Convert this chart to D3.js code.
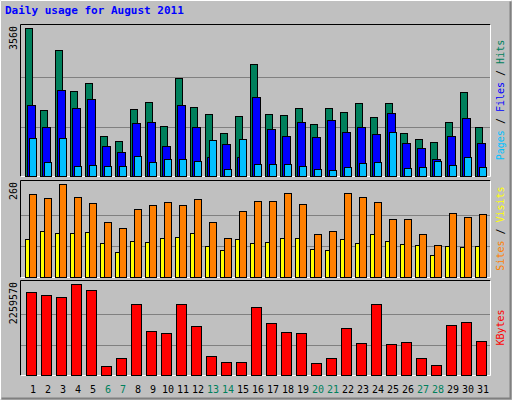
<!DOCTYPE html>
<html><head><meta charset="utf-8">
<script src="https://cdn.jsdelivr.net/npm/d3@7"></script>
<style>body{margin:0;background:#fff}svg{display:block}</style>
</head><body><svg id="c" width="512" height="400"></svg>
<script>
const days = d3.range(1, 32);
const weekends = [6, 7, 13, 14, 20, 21, 27, 28];
const hits = [3560,1598,3027,2034,2228,969,848,1623,1792,1211,2349,1671,1501,1041,1453,2688,1501,1477,1647,1259,1647,1550,1744,1429,1744,1041,896,823,1308,2010,1187];
const files = [1719,1187,2067,1647,1841,727,581,1284,1308,727,1719,1187,460,775,460,1889,1138,969,1308,944,1356,1066,1187,1017,1526,799,678,412,969,1405,799];
const pages = [920,339,920,242,266,242,242,484,339,412,412,363,872,170,896,291,291,291,242,170,145,218,315,339,1066,194,218,363,266,460,218];
const visits = [232,220,260,223,206,155,138,189,201,209,201,218,155,110,184,212,212,235,203,119,130,235,223,209,161,161,119,90,178,167,175];
const sites = [107,130,122,124,127,96,71,102,99,110,113,122,88,76,105,96,99,110,110,79,76,105,96,119,102,93,90,62,88,85,88];
const kbytes = [2060970,1986480,1936818,2259570,2110635,223479,422127,1763001,1092564,1042902,1763001,1216719,471789,322803,322803,1688508,1291212,1067733,1042902,297972,422127,1167057,794592,1763001,769761,819423,422127,248310,1241550,1316043,844254];

const svg = d3.select('#c');
const mono = "'DejaVu Sans Mono', monospace";

// outer frame
svg.append('rect').attr('width', 512).attr('height', 400).attr('fill', '#c0c0c0');
svg.append('path').attr('d', 'M0.5,399.5V0.5H511.5').attr('stroke', '#fff').attr('fill', 'none');
svg.append('path').attr('d', 'M1.5,398.5H510.5V1.5').attr('stroke', '#808080').attr('stroke-width', 2).attr('fill', 'none');

svg.append('text').attr('x', 5).attr('y', 14).attr('fill', '#0000ff')
  .style('font', `bold 11px ${mono}`).text('Daily usage for August 2011');

const x = d3.scaleLinear().domain([1, 31]).range([25, 475]);

function panel(top, bottom, max, label) {
  const y = d3.scaleLinear().domain([0, max]).range([bottom, top + 4]);
  const g = svg.append('g');
  g.append('rect').attr('x', 20.5).attr('y', top + 0.5).attr('width', 470).attr('height', bottom - top)
    .attr('fill', '#c0c0c0');
  g.append('path').attr('d', `M20.5,${bottom + 0.5}V${top + 0.5}H490.5`).attr('stroke', '#000').attr('fill', 'none');
  g.append('path').attr('d', `M20.5,${bottom + 0.5}H490.5V${top + 0.5}`).attr('stroke', '#fff').attr('fill', 'none');
  [1, 2].forEach(k => {
    const yy = Math.round(y(max * k / 3)) + 0.5;
    g.append('line').attr('x1', 21).attr('x2', 490).attr('y1', yy).attr('y2', yy).attr('stroke', '#808080');
  });
  g.append('text').attr('transform', `translate(17,${top + 2}) rotate(-90)`).attr('text-anchor', 'end')
    .style('font', `10px ${mono}`).text(label);
  return { g, y, bottom };
}

function bars(p, data, dx, w, color) {
  p.g.selectAll(null).data(data).enter().append('rect')
    .attr('x', (d, i) => x(days[i]) + dx + 0.5)
    .attr('y', d => Math.round(p.y(d)) + 0.5)
    .attr('width', w)
    .attr('height', d => p.bottom - Math.round(p.y(d)))
    .attr('fill', color).attr('stroke', '#000');
}

function sideLabel(top, bottom, parts) {
  const t = svg.append('text').attr('transform', `translate(504,${(top + bottom) / 2}) rotate(-90)`)
    .attr('text-anchor', 'middle').style('font', `10px ${mono}`);
  parts.forEach(([s, c]) => t.append('tspan').attr('fill', c).text(s));
}

const p1 = panel(24, 176, 3560, '3560');
bars(p1, hits, 0, 7, '#00805c');
bars(p1, files, 2, 8, '#0000ff');
bars(p1, pages, 4, 7, '#00c0ff');
sideLabel(24, 176, [['Pages', '#00c0ff'], [' / ', '#000'], ['Files', '#0000ff'], [' / ', '#000'], ['Hits', '#00805c']]);

const p2 = panel(180, 277, 260, '260');
bars(p2, sites, 0, 4, '#ffff00');
bars(p2, visits, 4, 7, '#ff8000');
sideLabel(180, 277, [['Sites', '#ff8000'], [' / ', '#000'], ['Visits', '#ffff00']]);

const p3 = panel(280, 375, 2259570, '2259570');
bars(p3, kbytes, 1, 10, '#ff0000');
sideLabel(280, 375, [['KBytes', '#ff0000']]);

svg.selectAll('.day').data(days).enter().append('text')
  .attr('x', d => x(d) + 8).attr('y', 393).attr('text-anchor', 'middle')
  .attr('fill', d => weekends.includes(d) ? '#00805c' : '#000')
  .style('font', `10px ${mono}`).text(d => d);
</script></body></html>
